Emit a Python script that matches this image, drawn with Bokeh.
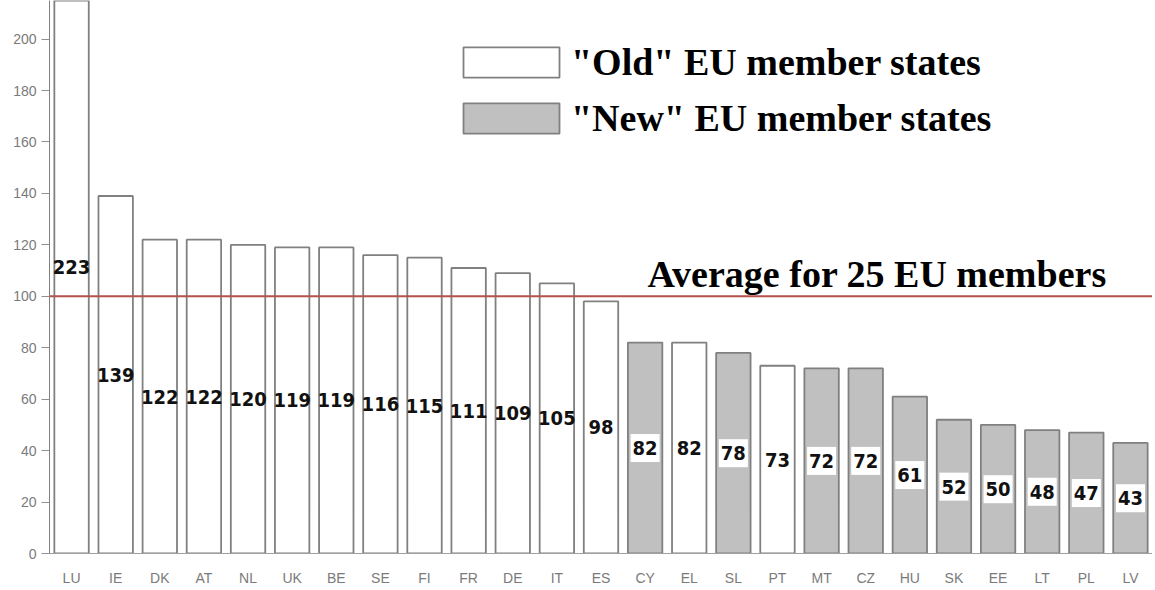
from bokeh.plotting import figure
from bokeh.models import ColumnDataSource, FactorRange, Legend, LegendItem, Label, Span
from bokeh.core.properties import value
from bokeh.embed import file_html
from bokeh.resources import INLINE

countries = ["LU", "IE", "DK", "AT", "NL", "UK", "BE", "SE", "FI", "FR", "DE", "IT", "ES",
             "CY", "EL", "SL", "PT", "MT", "CZ", "HU", "SK", "EE", "LT", "PL", "LV"]
gdp = [223, 139, 122, 122, 120, 119, 119, 116, 115, 111, 109, 105, 98,
       82, 82, 78, 73, 72, 72, 61, 52, 50, 48, 47, 43]
group = ["old"] * 13 + ["new", "old", "new", "old",
                        "new", "new", "new", "new", "new", "new", "new", "new"]
legend_labels = {"old": '"Old" EU member states', "new": '"New" EU member states'}
average_value = 100
average_label = "Average for 25 EU members"
y_ticks = [0, 20, 40, 60, 80, 100, 120, 140, 160, 180, 200]

fills = {"old": "#ffffff", "new": "#c0c0c0"}

p = figure(x_range=FactorRange(factors=countries, range_padding=0), y_range=(0, 215),
           width=1152, height=588, output_backend="svg", toolbar_location=None,
           min_border_left=49, min_border_right=0, min_border_top=0, min_border_bottom=34)
p.outline_line_color = None
p.xgrid.grid_line_color = None
p.ygrid.grid_line_color = None
p.background_fill_color = "white"

num_font = value("DejaVu Sans Condensed")
renderers = {}
for g in ["old", "new"]:
    xs = [c for c, gg in zip(countries, group) if gg == g]
    vs = [v for v, gg in zip(gdp, group) if gg == g]
    src = ColumnDataSource(dict(country=xs, gdp=vs, mid=[v / 2 for v in vs],
                                txt=[str(v) for v in vs]))
    renderers[g] = p.vbar(x="country", top="gdp", width=0.78, source=src,
                          fill_color=fills[g], line_color="#808080", line_width=1.8)
    kw = {}
    if g == "new":
        kw = dict(background_fill_color="white", padding=(2, 7))
    p.text(x="country", y="mid", text="txt", source=src, text_align="center",
           text_baseline="middle", text_font=num_font, text_font_style="bold",
           text_font_size="20px", text_color="#111111", **kw)

p.add_layout(Span(location=average_value, dimension="width", line_color="#b5524c",
                  line_width=2))
p.add_layout(Label(x=598, x_units="screen", y=average_value, y_offset=1,
                   text=average_label, text_font="Liberation Serif",
                   text_font_style="bold", text_font_size="38px", text_color="black",
                   text_baseline="bottom"))

legend = Legend(items=[LegendItem(label=legend_labels["old"], renderers=[renderers["old"]]),
                       LegendItem(label=legend_labels["new"], renderers=[renderers["new"]])],
                location=(402, 413), glyph_width=120, glyph_height=38, spacing=12,
                padding=0, margin=0, label_standoff=0,
                label_text_font="Liberation Serif", label_text_font_style="bold",
                label_text_font_size="38px", label_text_color="black",
                border_line_color=None, background_fill_alpha=0)
p.add_layout(legend, "center")

p.yaxis.ticker = y_ticks
p.yaxis.minor_tick_line_color = None
p.yaxis.major_tick_out = 8
p.yaxis.major_tick_in = 0
p.yaxis.major_label_standoff = 5
p.yaxis.major_label_text_font = "Liberation Sans"
p.yaxis.major_label_text_font_size = "14px"
p.yaxis.major_label_text_color = "#7a7a7a"
p.yaxis.axis_line_color = "#808080"
p.yaxis.major_tick_line_color = "#909090"

p.xaxis.major_tick_line_color = None
p.xaxis.major_tick_out = 0
p.xaxis.major_tick_in = 0
p.xaxis.major_label_standoff = 16
p.xaxis.major_label_text_font = "Liberation Sans"
p.xaxis.major_label_text_font_size = "14px"
p.xaxis.major_label_text_color = "#7a7a7a"
p.xaxis.axis_line_color = "#a0a0a0"

open("out.html", "w").write(file_html(p, INLINE))
